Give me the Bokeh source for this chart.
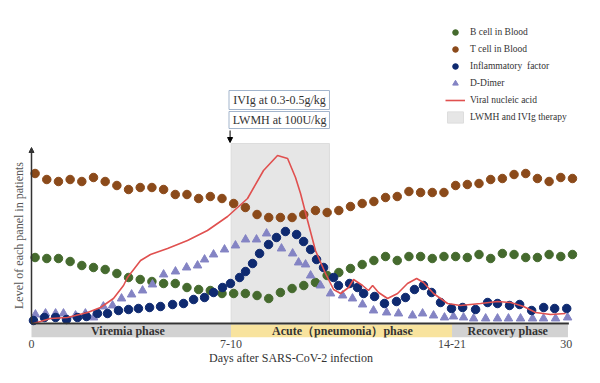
import math
from bokeh.plotting import figure
from bokeh.models import Range1d, FixedTicker, Legend, LegendItem, Arrow, NormalHead, BoxAnnotation
from bokeh.embed import file_html
from bokeh.resources import INLINE

SERIF = "Liberation Serif"

# ---- data (x in days on the chart's axis, y in relative level) ----
tcell_day = [0.2, 0.85, 1.5, 2.15, 2.8, 3.45, 4.1, 4.75, 5.4, 6.05, 6.7, 7.35, 8.0, 8.65, 9.3, 9.95,
             10.6, 11.25, 11.9, 12.55, 13.2, 13.85, 14.5, 15.15, 15.8, 16.45, 17.1, 17.75, 18.4, 19.05,
             19.7, 20.35, 21.0, 21.65, 22.3, 22.95, 23.6, 24.25, 24.9, 25.55, 26.2, 26.85, 27.5, 28.15,
             28.8, 29.45, 30.1]
tcell_level = [150, 144, 142, 144, 142, 146, 142, 138, 134, 136, 136, 134, 129, 129, 125, 127, 125, 120,
               116, 109, 106, 106, 106, 109, 113, 111, 113, 117, 120, 122, 126, 127, 132, 131, 131, 131,
               138, 139, 140, 144, 145, 149, 150, 145, 142, 146, 145]

bcell_day = tcell_day
bcell_level = [66, 65, 65, 62, 58, 56, 54, 50, 46, 44, 42, 40, 40, 36, 34, 33, 30, 30, 30, 28, 25, 31,
               35, 38, 41, 48, 51, 55, 59, 63, 67, 63, 67, 67, 65, 67, 67, 66, 69, 65, 70, 69, 66, 66,
               69, 67, 69]

infl_day = [0.11, 0.72, 1.34, 1.95, 2.56, 3.06, 3.67, 4.23, 4.84, 5.4, 5.95, 6.57, 7.18, 7.85, 8.46,
            9.02, 9.63, 10.13, 10.63, 11.07, 11.58, 11.91, 12.3, 12.69, 13.19, 13.63, 14.13, 14.75,
            15.14, 15.53, 15.86, 16.25, 16.81, 17.08, 17.7, 18.14, 18.48, 19.09, 19.64, 20.31, 20.81,
            21.31, 21.81, 22.26, 22.76, 23.37, 23.99, 24.71, 25.38, 25.93, 26.6, 27.16, 27.83, 28.5,
            29.11, 29.78]
infl_level = [3, 6, 6, 4, 6, 7, 10, 10, 13, 14, 15, 16, 17, 19, 20, 24, 26, 31, 36, 40, 46, 52, 60, 70,
              79, 86, 92, 89, 82, 74, 64, 56, 46, 38, 40, 36, 30, 27, 20, 22, 26, 34, 38, 31, 21, 15,
              16, 14, 21, 20, 18, 19, 13, 16, 15, 15]

ddimer_day = [0.22, 0.78, 1.34, 1.78, 2.45, 3.0, 3.45, 4.0, 4.51, 5.01, 5.57, 6.18, 6.73, 7.35, 8.01,
              8.63, 9.24, 9.63, 10.13, 10.74, 11.35, 11.91, 12.52, 13.08, 13.91, 14.53, 14.86, 15.25,
              15.53, 16.08, 16.64, 17.31, 17.86, 18.42, 19.03, 19.76, 20.42, 21.2, 21.76, 22.37, 22.98,
              23.48, 24.04, 24.6, 25.27, 25.93, 26.54, 27.21, 27.88, 28.49, 29.16, 29.83]
ddimer_level = [9, 10, 10, 10, 8, 10, 6, 17, 18, 25, 29, 33, 39, 49, 52, 56, 58, 64, 69, 74, 78, 84, 84,
                90, 75, 70, 61, 59, 48, 38, 30, 28, 25, 19, 13, 11, 10, 8, 10, 8, 6, 7, 6, 5, 5, 5, 5,
                5, 5, 5, 5, 6]

viral_day = [0.11, 1.06, 2.0, 3.12, 3.84, 4.56, 5.12, 5.34, 6.07, 6.62, 7.57, 8.68, 9.79, 10.91, 12.02,
             12.91, 13.69, 14.25, 14.69, 14.97, 15.36, 15.8, 16.36, 16.81, 17.2, 17.64, 17.92, 18.42,
             18.75, 18.98, 19.31, 19.81, 20.37, 20.92, 21.43, 21.81, 22.37, 23.15, 23.87, 24.99, 25.93,
             26.66, 27.38, 28.05, 28.88, 29.72]
viral_level = [0, 5, 6, 11, 16, 25, 38, 46, 63, 69, 75, 83, 93, 107, 125, 153, 168, 165, 146, 130, 103,
               73, 50, 34, 30, 36, 44, 38, 33, 38, 31, 25, 30, 40, 45, 41, 30, 20, 18, 20, 22, 21, 17,
               11, 9, 10]

therapy_start, therapy_end, therapy_top = 11.11, 16.58, 180

phase_names = ["Viremia  phase", "Acute\uff08pneumonia\uff09phase", "Recovery phase"]
phase_start = [0, 11.1, 23.4]
phase_end = [11.1, 23.4, 29.85]
phase_label_x = [5.45, 17.3, 26.5]
phase_colors = ["#d2d2d2", "#f8e39e", "#d2d2d2"]

tick_pos = [0, 11.1, 23.4, 29.75]
tick_labels = ["0", "7-10", "14-21", "30"]

therapy_notes = ["IVIg at 0.3-0.5g/kg", "LWMH at 100U/kg"]

# ---- figure ----
p = figure(width=584, height=367, output_backend="svg", toolbar_location=None,
           x_range=Range1d(-1.725, 30.77), y_range=Range1d(-14, 323),
           y_axis_location=None, min_border_left=0, min_border_right=0,
           min_border_top=0, min_border_bottom=30)
p.xgrid.visible = False
p.ygrid.visible = False
p.outline_line_color = None
p.background_fill_color = "white"

xa = p.xaxis[0]
xa.ticker = FixedTicker(ticks=tick_pos)
xa.major_label_overrides = {t: l for t, l in zip(tick_pos, tick_labels)}
xa.axis_line_color = None
xa.major_tick_line_color = None
xa.minor_tick_line_color = None
xa.major_tick_out = 0
xa.major_label_standoff = 2
xa.major_label_text_font = SERIF
xa.major_label_text_font_size = "12px"
xa.major_label_text_color = "#444444"
xa.axis_label = "Days after SARS-CoV-2  infection"
xa.axis_label_text_font = SERIF
xa.axis_label_text_font_size = "12px"
xa.axis_label_text_font_style = "normal"
xa.axis_label_text_color = "#333333"
xa.axis_label_standoff = 0

# therapy shading
r_shade = p.quad(left=[therapy_start], right=[therapy_end], bottom=[0], top=[therapy_top],
                 fill_color="#e6e6e6", line_color="#dddddd")

# phase bars
p.quad(left=phase_start, right=phase_end, bottom=-14, top=-1, fill_color=phase_colors, line_color=None)
p.text(x=phase_label_x, y=[-7.5] * 3, text=phase_names, text_align="center", text_baseline="middle",
       text_font=SERIF, text_font_size="12px", text_font_style="bold", text_color="#333333")

# series
r_t = p.scatter(tcell_day, tcell_level, marker="circle", size=8.5, fill_color="#8b4a1a", line_color="#8b4a1a")
r_b = p.scatter(bcell_day, bcell_level, marker="circle", size=8.5, fill_color="#456a2e", line_color="#456a2e")
r_d = p.scatter(ddimer_day, ddimer_level, marker="triangle", size=8.5, fill_color="#8484c4", line_color="#8484c4")
r_i = p.scatter(infl_day, infl_level, marker="circle", size=8.5, fill_color="#0f2a70", line_color="#0f2a70")
r_v = p.line(viral_day, viral_level, line_color="#e0504f", line_width=1.6)

# axes lines
p.add_layout(Arrow(x_start=0, y_start=0, x_end=29.9, y_end=0, end=None, line_color="#333333", line_width=2))
p.add_layout(Arrow(x_start=0, y_start=0, x_end=0, y_end=176, line_color="#333333", line_width=1.5,
                   end=NormalHead(size=5, fill_color="#333333", line_color="#333333")))

# therapy annotation
p.add_layout(BoxAnnotation(left=10.99, right=16.58, bottom=214, top=233, fill_color=None,
                           line_color="#a3b5cc", line_width=1, line_alpha=1))
p.add_layout(BoxAnnotation(left=10.99, right=16.58, bottom=195, top=212, fill_color=None,
                           line_color="#a3b5cc", line_width=1, line_alpha=1))
p.text(x=[13.8, 13.8], y=[223.5, 203.5], text=therapy_notes, text_align="center", text_baseline="middle",
       text_font=SERIF, text_font_size="12px", text_color="#333333")
p.add_layout(Arrow(x_start=11.05, y_start=193, x_end=11.05, y_end=181, line_color="black", line_width=1,
                   end=NormalHead(size=5, fill_color="black", line_color="black")))

# y label
p.text(x=[-0.72], y=[88], text=["Level of each panel in patients"], angle=math.pi / 2,
       text_align="center", text_baseline="middle", text_font=SERIF, text_font_size="12px",
       text_color="#555555")

legend = Legend(items=[
    LegendItem(label="B cell in Blood", renderers=[r_b]),
    LegendItem(label="T cell in Blood", renderers=[r_t]),
    LegendItem(label="Inflammatory  factor", renderers=[r_i]),
    LegendItem(label="D-Dimer", renderers=[r_d]),
    LegendItem(label="Viral nucleic acid", renderers=[r_v]),
    LegendItem(label="LWMH and IVIg therapy", renderers=[r_shade]),
], location=(445, 213), margin=0, padding=0, spacing=3, glyph_width=20, glyph_height=14,
    label_height=14, label_standoff=5, border_line_color=None, background_fill_alpha=0,
    label_text_font=SERIF, label_text_font_size="9.5px", label_text_color="#333333")
p.add_layout(legend)

open("out.html", "w").write(file_html(p, INLINE))
